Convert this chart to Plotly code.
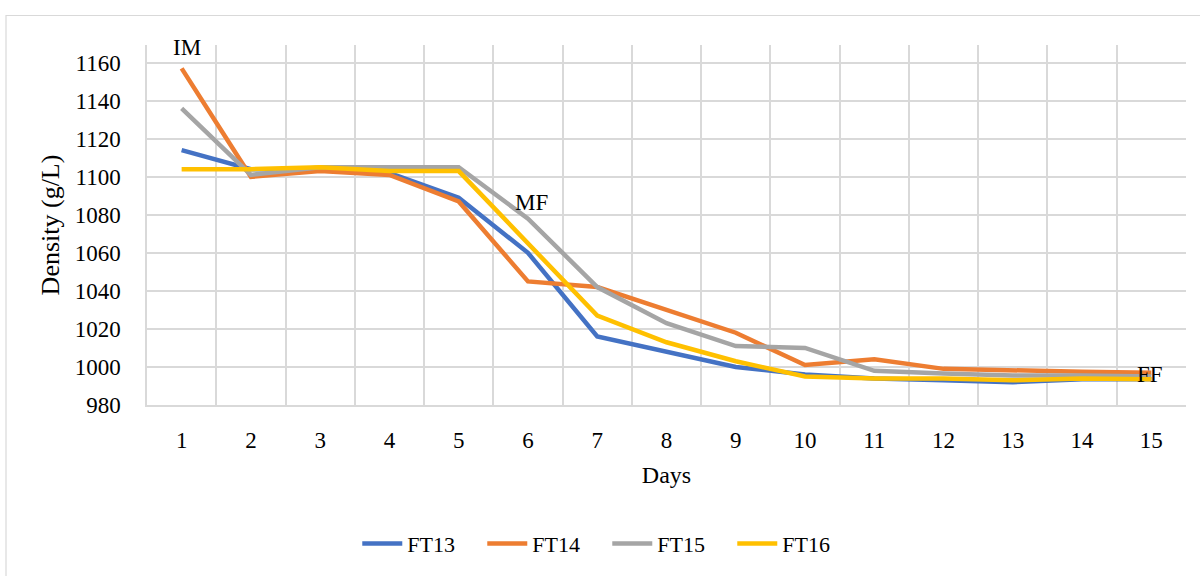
import plotly.graph_objects as go

# Fermentation days
days = list(range(1, 16))

# Must density per fermentation trial (g/L)
ft13 = [1114, 1104, 1104, 1102, 1089, 1060, 1016, 1008, 1000, 996, 994, 993, 992, 993.5, 993.5]
ft14 = [1157, 1100, 1103, 1101, 1087, 1045, 1042, 1030, 1018, 1001, 1004, 999, 998, 997.5, 997]
ft15 = [1136, 1101, 1105, 1105, 1105, 1078, 1042, 1023, 1011, 1010, 998, 996.5, 995.5, 995.5, 995]
ft16 = [1104, 1104, 1105, 1103, 1103, 1065, 1027, 1013, 1003, 995, 994, 994, 993, 994, 993.5]

series = [
    ("FT13", ft13, "#4472C4"),
    ("FT14", ft14, "#ED7D31"),
    ("FT15", ft15, "#A5A5A5"),
    ("FT16", ft16, "#FFC000"),
]

# Fermentation phase labels: initial must, mid fermentation, final fermentation
phase_labels = ["IM", "MF", "FF"]
phase_x = [1.08, 6.05, 14.98]
phase_y = [1168, 1086.5, 996]

y_ticks = list(range(980, 1161, 20))

FONT = "Liberation Serif, Times New Roman, serif"
GRID = "#D9D9D9"

fig = go.Figure()
for name, vals, color in series:
    fig.add_trace(go.Scatter(
        x=days, y=vals, name=name, mode="lines",
        line=dict(color=color, width=4.5),
    ))

for txt, xv, yv in zip(phase_labels, phase_x, phase_y):
    fig.add_annotation(x=xv, y=yv, text=txt, showarrow=False,
                       font=dict(family=FONT, size=23, color="black"))

# outer chart frame
fig.add_shape(type="rect", xref="paper", yref="paper",
              x0=-0.1357, x1=1.05, y0=-0.6, y1=1.082,
              line=dict(color=GRID, width=1.2), fillcolor="rgba(0,0,0,0)",
              layer="below")

fig.update_layout(
    width=1200, height=576,
    margin=dict(l=147, r=14, t=45, b=165),
    paper_bgcolor="white", plot_bgcolor="white",
    font=dict(family=FONT, size=22, color="black"),
    showlegend=True,
    legend=dict(orientation="h", x=0.443, xanchor="center", y=-0.385, yanchor="middle",
                font=dict(family=FONT, size=22, color="black"),
                itemwidth=40, entrywidth=70, tracegroupgap=0),
    xaxis=dict(
        range=[0.5, 15.5], tickvals=days, ticktext=[str(d) for d in days],
        showgrid=False, zeroline=False,
        showline=True, linecolor=GRID, linewidth=1.5,
        ticks="", ticklen=0, ticklabelstandoff=14,
        minor=dict(tickvals=[d + 0.5 for d in range(0, 16)], showgrid=True,
                   gridcolor=GRID, gridwidth=1.5, ticks=""),
        title=dict(text="Days", font=dict(family=FONT, size=24), standoff=14),
        tickfont=dict(family=FONT, size=23),
    ),
    yaxis=dict(
        range=[980, 1169.3], tickvals=y_ticks,
        showgrid=True, gridcolor=GRID, gridwidth=1.5, zeroline=False,
        showline=True, linecolor=GRID, linewidth=1.5,
        ticks="", ticklen=0, ticklabelstandoff=20,
        title=dict(text="Density (g/L)", font=dict(family=FONT, size=26), standoff=8),
        tickfont=dict(family=FONT, size=23),
    ),
)

fig.write_html("out.html")
